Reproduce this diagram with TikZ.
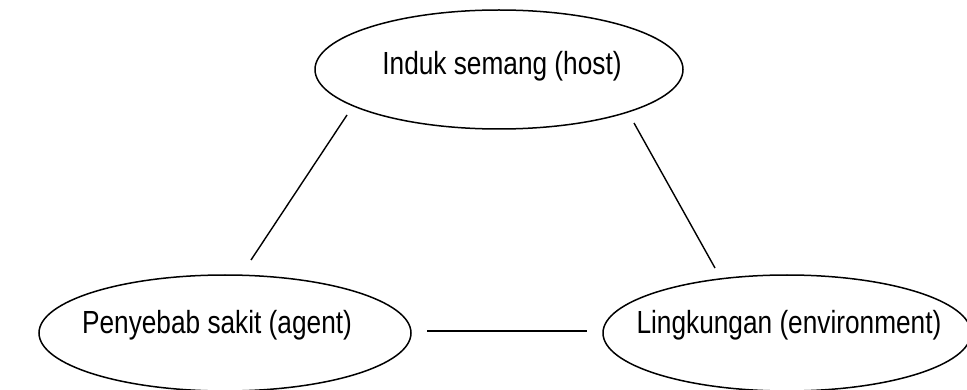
\documentclass[tikz,border=0pt]{standalone}
\usepackage{fontspec}
\setmainfont[FakeStretch=0.82]{Liberation Sans}
\usetikzlibrary{shapes.geometric}
\begin{document}
\begin{tikzpicture}[x=1pt,y=-1pt,
  oval/.style={draw=black,line width=1.5pt,ellipse,inner sep=0pt},
  lbl/.style={anchor=base,inner sep=0pt,font=\fontsize{32}{38}\selectfont},
  link/.style={draw=black,line width=1.4pt}]
\useasboundingbox (0,0) rectangle (967,390);
\node[oval,minimum width=368pt,minimum height=119pt] (host) at (499,69.5) {};
\node[oval,minimum width=372pt,minimum height=116pt] (agent) at (225,333) {};
\node[oval,minimum width=368pt,minimum height=116pt] (env) at (787,333) {};
\node[lbl] (thost) at (502,75) {Induk semang (host)};
\node[lbl] (tagent) at (217,334) {Penyebab sakit (agent)};
\node[lbl] (tenv) at (789,333) {Lingkungan (environment)};
\coordinate (h1) at (347,115);
\coordinate (a1) at (251,260);
\coordinate (h2) at (634,123);
\coordinate (e1) at (715,268);
\coordinate (a2) at (427,331);
\coordinate (e2) at (587,331);
\draw[link] (h1) -- (a1);
\draw[link] (h2) -- (e1);
\draw[link] (a2) -- (e2);
\end{tikzpicture}
\end{document}
